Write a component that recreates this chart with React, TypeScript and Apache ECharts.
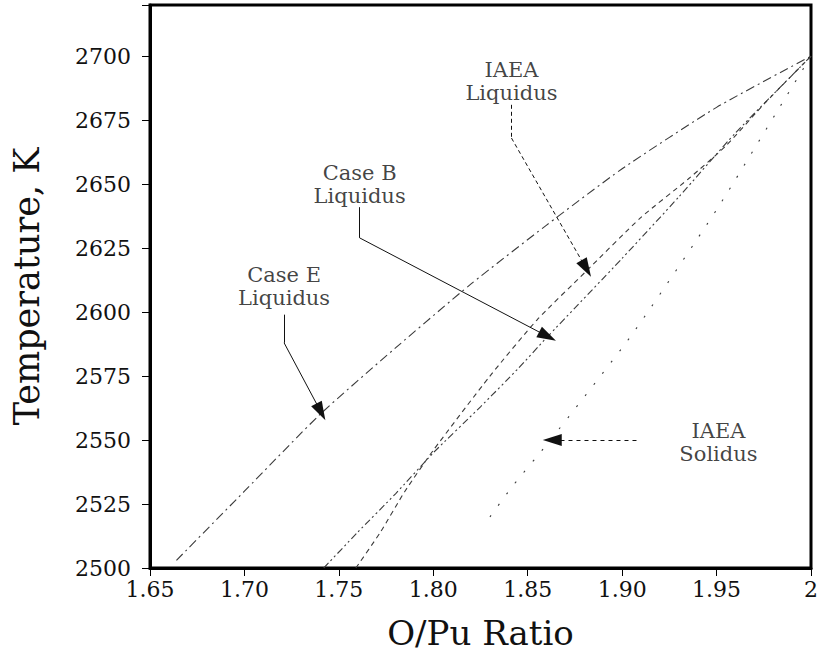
import React, { useEffect, useRef } from "react";
import * as echarts from "echarts";

// ---- data (O/Pu ratio, temperature K) ----
const caseEX = [1.664, 1.7, 1.74, 1.78, 1.82, 1.86, 1.9, 1.95, 2.0];
const caseEY = [2503, 2530, 2560, 2586, 2611, 2634, 2656, 2680, 2700];

const caseBX = [1.742, 1.76, 1.78, 1.8, 1.825, 1.845, 1.86, 1.9, 1.93, 1.96, 2.0];
const caseBY = [2500, 2514, 2529, 2545, 2563, 2578, 2590, 2621, 2645, 2670, 2700];

const iaeaLiqX = [1.759, 1.772, 1.785, 1.8, 1.83, 1.855, 1.881, 1.91, 1.935, 1.955, 1.976, 2.0];
const iaeaLiqY = [2500, 2514, 2530, 2546, 2575, 2597, 2616, 2637, 2652, 2665, 2682, 2700];

const iaeaSolX = [1.83, 1.842, 1.862, 1.905, 1.95, 1.985, 2.0];
const iaeaSolY = [2520, 2532, 2550, 2591, 2640, 2682, 2700];

// leader lines (last segment ends with an arrowhead)
const leadIaeaLiqX = [1.8414, 1.8414, 1.881];
const leadIaeaLiqY = [2681, 2668, 2617];
const leadCaseBX = [1.761, 1.761, 1.8605];
const leadCaseBY = [2641, 2629, 2590.5];
const leadCaseEX = [1.721, 1.721, 1.7405];
const leadCaseEY = [2599, 2588, 2561];
const leadSolX = [1.9076, 1.863];
const leadSolY = [2550, 2550];

// annotation labels
const labelTexts = ["IAEA\nLiquidus", "Case B\nLiquidus", "Case E\nLiquidus", "IAEA\nSolidus"];
const labelX = [1.8414, 1.761, 1.721, 1.951];
const labelY = [2690, 2650, 2610, 2549];

// axes
const xMin = 1.65;
const xMax = 2.0;
const xStep = 0.05;
const yMin = 2500;
const yMax = 2720;
const yStep = 25;
const yLabelTop = 2700;

const zip = (xs: number[], ys: number[]) => xs.map((x, i) => [x, ys[i]]);

const FONT = "DejaVu Serif";

function leaderSegments(xs: number[], ys: number[]) {
  const segs: any[] = [];
  for (let i = 0; i < xs.length - 1; i++) {
    const last = i === xs.length - 2;
    segs.push([
      { coord: [xs[i], ys[i]], symbol: "none" },
      { coord: [xs[i + 1], ys[i + 1]], symbol: last ? "triangle" : "none" },
    ]);
  }
  return segs;
}

export default function App() {
  const ref = useRef<HTMLDivElement>(null);

  useEffect(() => {
    document.body.style.margin = "0";
    if (!ref.current) return;
    const chart = echarts.init(ref.current, null, { renderer: "svg" });

    const dataLine = (name: string, xs: number[], ys: number[], type: any, width = 1.1) => ({
      name,
      type: "line",
      data: zip(xs, ys),
      showSymbol: false,
      symbol: "none",
      smooth: 0.2,
      lineStyle: { color: "#3a3a3a", width, type },
      z: 3,
    });

    const leader = (xs: number[], ys: number[], type: any) => ({
      type: "line",
      data: [],
      markLine: {
        silent: true,
        animation: false,
        symbol: ["none", "triangle"],
        symbolSize: [12, 19],
        label: { show: false },
        lineStyle: { color: "#111", width: 1, type },
        emphasis: { disabled: true },
        data: leaderSegments(xs, ys),
      },
      z: 4,
    });

    chart.setOption({
      animation: false,
      backgroundColor: "#fff",
      grid: {
        left: 150,
        right: 9,
        top: 5,
        bottom: 78,
        show: true,
        borderColor: "#000",
        borderWidth: 3,
        backgroundColor: "transparent",
      },
      xAxis: {
        type: "value",
        min: xMin,
        max: xMax,
        interval: xStep,
        name: "O/Pu Ratio",
        nameLocation: "middle",
        nameGap: 48,
        nameTextStyle: { fontFamily: FONT, fontSize: 34, color: "#111" },
        axisLine: { show: true, lineStyle: { color: "#000", width: 3 } },
        axisTick: { show: true, inside: false, length: 8, lineStyle: { color: "#000", width: 1 } },
        axisLabel: {
          fontFamily: FONT,
          fontSize: 22,
          color: "#111",
          margin: 10,
          formatter: (v: number) => (Math.abs(v - 2) < 1e-9 ? "2" : v.toFixed(2)),
        },
        splitLine: { show: false },
      },
      yAxis: {
        type: "value",
        min: yMin,
        max: yMax,
        interval: yStep,
        name: "Temperature, K",
        nameLocation: "middle",
        nameGap: 106,
        nameTextStyle: { fontFamily: FONT, fontSize: 35, color: "#111" },
        axisLine: { show: true, lineStyle: { color: "#000", width: 3 } },
        axisTick: { show: true, inside: false, length: 8, lineStyle: { color: "#000", width: 1 } },
        axisLabel: {
          fontFamily: FONT,
          fontSize: 22,
          color: "#111",
          margin: 19,
          formatter: (v: number) => (v <= yLabelTop && Math.abs(v % yStep) < 1e-9 ? String(v) : ""),
        },
        splitLine: { show: false },
      },
      series: [
        dataLine("Case E Liquidus", caseEX, caseEY, [9, 4, 2, 4]),
        dataLine("Case B Liquidus", caseBX, caseBY, [7, 3, 2, 3, 2, 3]),
        dataLine("IAEA Liquidus", iaeaLiqX, iaeaLiqY, [5, 4]),
        dataLine("IAEA Solidus", iaeaSolX, iaeaSolY, [2, 12]),
        leader(leadIaeaLiqX, leadIaeaLiqY, [4, 3]),
        leader(leadCaseBX, leadCaseBY, "solid"),
        leader(leadCaseEX, leadCaseEY, "solid"),
        leader(leadSolX, leadSolY, [4, 4]),
        {
          type: "scatter",
          symbolSize: 0,
          silent: true,
          data: labelTexts.map((t, i) => ({ name: t, value: [labelX[i], labelY[i]] })),
          label: {
            show: true,
            position: "inside",
            formatter: (p: any) => p.name,
            fontFamily: FONT,
            fontSize: 21,
            lineHeight: 23,
            color: "#111",
            align: "center",
          },
          z: 5,
        },
      ],
    });

    return () => chart.dispose();
  }, []);

  return <div ref={ref} style={{ width: 821, height: 655 }} />;
}
